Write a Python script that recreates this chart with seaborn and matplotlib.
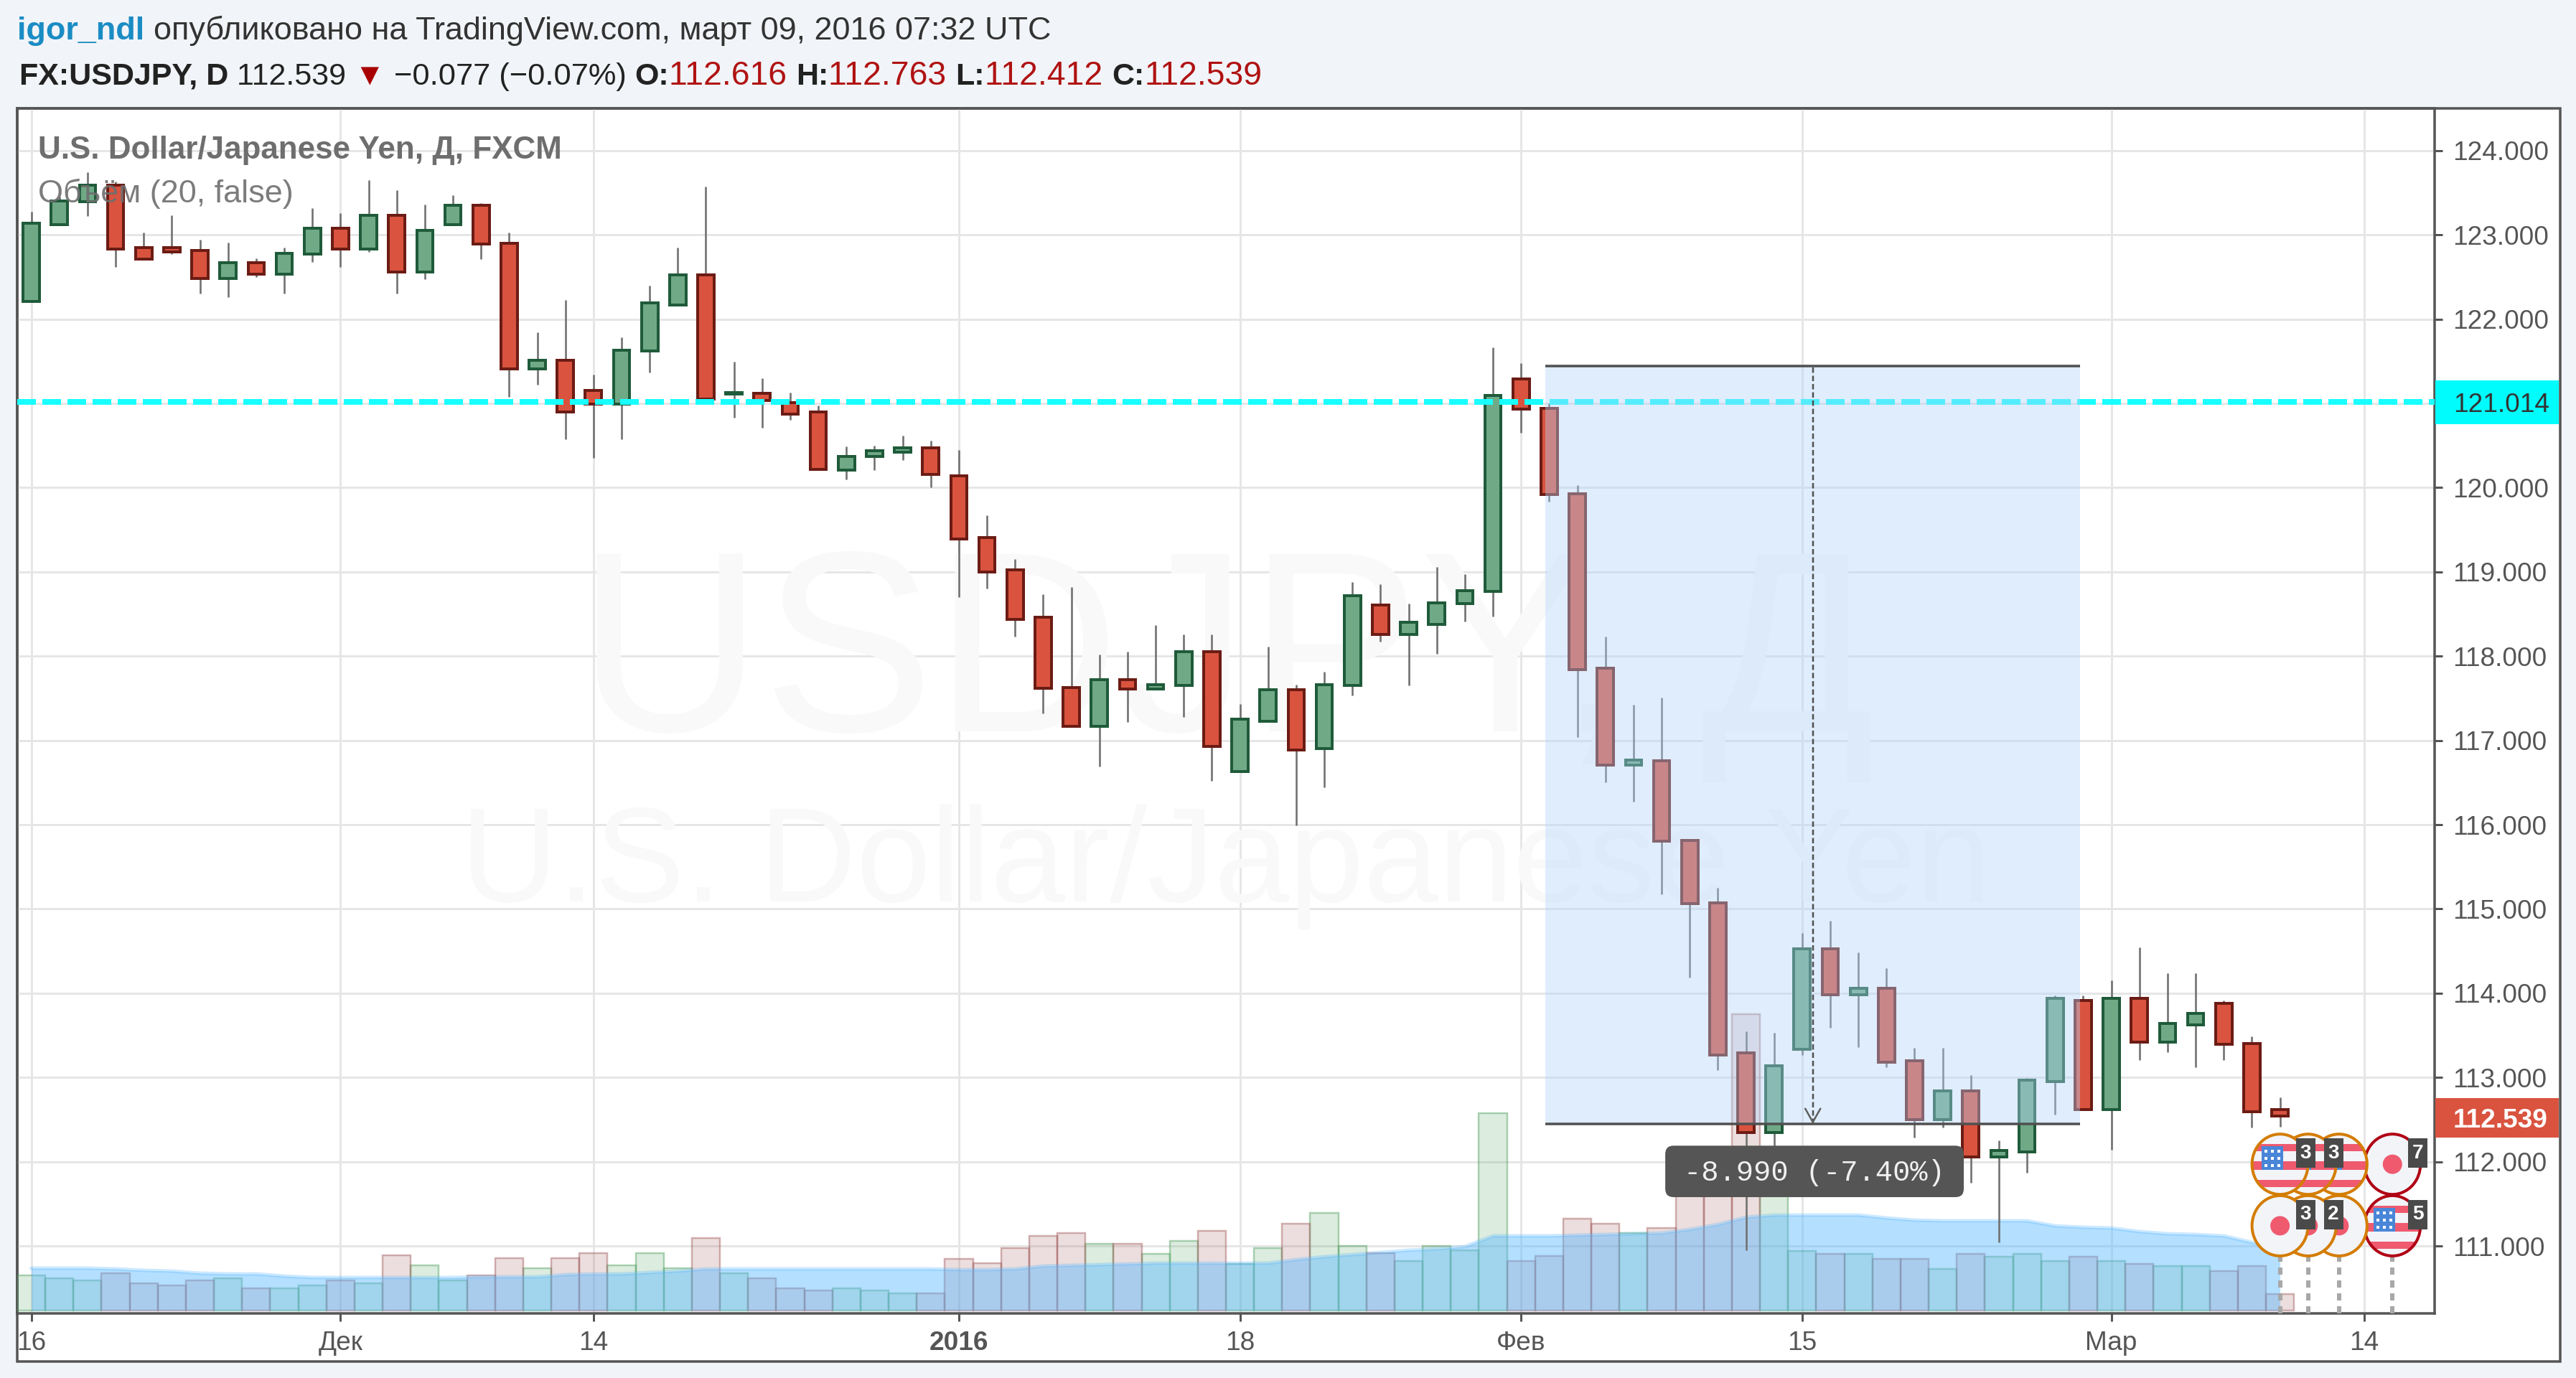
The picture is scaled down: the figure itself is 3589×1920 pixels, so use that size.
import numpy as np
import pandas as pd
import matplotlib
matplotlib.use("Agg")
import matplotlib.pyplot as plt
import seaborn as sns
from matplotlib.patches import Ellipse, FancyBboxPatch, Rectangle

# candles
opens = [122.21, 123.12, 123.39, 123.59, 122.85, 122.85, 122.81, 122.48, 122.67, 122.53,
         122.77, 123.08, 122.83, 123.23, 122.56, 123.12, 123.35, 122.90, 121.41, 121.51,
         121.15, 120.99, 121.62, 122.17, 122.52, 121.11, 121.12, 121.01, 120.90, 120.21,
         120.37, 120.42, 120.47, 120.14, 119.41, 119.02, 118.46, 117.63, 117.17, 117.72,
         117.61, 117.65, 118.05, 116.63, 117.23, 117.60, 116.90, 117.65, 118.61, 118.26,
         118.38, 118.62, 118.77, 121.29, 120.94, 119.93, 117.86, 116.71, 116.76, 115.81,
         115.07, 113.29, 112.35, 113.33, 114.53, 113.98, 114.06, 113.20, 112.50, 112.84,
         112.06, 112.12, 112.95, 113.91, 112.62, 113.94, 113.42, 113.62, 113.88, 113.40,
         112.616]
closes = [123.14, 123.40, 123.59, 122.83, 122.71, 122.80, 122.48, 122.67, 122.53, 122.78,
          123.08, 122.83, 123.23, 122.56, 123.05, 123.35, 122.89, 121.41, 121.51, 120.90,
          120.99, 121.63, 122.19, 122.52, 121.05, 121.13, 121.03, 120.87, 120.22, 120.37,
          120.44, 120.47, 120.16, 119.39, 119.00, 118.44, 117.62, 117.17, 117.72, 117.61,
          117.66, 118.05, 116.93, 117.25, 117.60, 116.89, 117.66, 118.72, 118.26, 118.40,
          118.63, 118.78, 121.09, 120.93, 119.92, 117.84, 116.71, 116.77, 115.80, 115.06,
          113.27, 112.35, 113.14, 114.53, 113.98, 114.06, 113.18, 112.50, 112.84, 112.06,
          112.13, 112.97, 113.94, 112.62, 113.94, 113.42, 113.64, 113.76, 113.39, 112.59,
          112.539]
highs = [123.27, 123.45, 123.74, 123.63, 123.03, 123.23, 122.94, 122.91, 122.72, 122.85,
         123.32, 123.26, 123.65, 123.53, 123.36, 123.47, 123.38, 123.03, 121.84, 122.23,
         121.34, 121.78, 122.40, 122.85, 123.57, 121.49, 121.30, 121.13, 120.97, 120.49,
         120.50, 120.62, 120.56, 120.45, 119.67, 119.15, 118.73, 118.82, 118.02, 118.05,
         118.37, 118.26, 118.26, 117.43, 118.11, 117.66, 117.81, 118.88, 118.85, 118.62,
         119.06, 118.97, 121.66, 121.48, 121.00, 120.03, 118.23, 117.42, 117.51, 115.81,
         115.25, 113.55, 113.53, 114.71, 114.86, 114.48, 114.30, 113.35, 113.35, 113.03,
         112.25, 112.99, 113.97, 113.97, 114.15, 114.54, 114.24, 114.24, 113.91, 113.49,
         112.763]
lows = [122.21, 123.12, 123.22, 122.62, 122.71, 122.77, 122.30, 122.26, 122.50, 122.30,
        122.68, 122.62, 122.80, 122.30, 122.47, 123.12, 122.71, 121.08, 121.22, 120.57,
        120.35, 120.57, 121.37, 122.17, 121.05, 120.83, 120.71, 120.80, 120.22, 120.10,
        120.21, 120.33, 120.00, 118.70, 118.80, 118.23, 117.32, 117.17, 116.69, 117.22,
        117.61, 117.28, 116.52, 116.63, 117.23, 115.99, 116.44, 117.53, 118.17, 117.65,
        118.03, 118.41, 118.47, 120.65, 119.83, 117.04, 116.50, 116.27, 115.17, 114.19,
        113.09, 110.95, 112.18, 113.27, 113.59, 113.36, 113.12, 112.29, 112.41, 111.75,
        111.04, 111.87, 112.56, 112.62, 112.14, 113.21, 113.30, 113.12, 113.21, 112.41,
        112.412]

# volume and its 20 day average, in picture units (the scale itself is not shown)
volume = [49, 45, 42, 52, 38, 35, 42, 45, 31, 31,
          35, 42, 38, 77, 63, 42, 49, 73, 59, 73,
          80, 63, 80, 59, 101, 52, 45, 31, 28, 31,
          28, 24, 24, 72, 66, 87, 104, 108, 93, 93,
          79, 97, 111, 65, 87, 121, 136, 90, 80, 69,
          90, 84, 275, 69, 76, 128, 121, 108, 115, 190,
          195, 413, 190, 83, 79, 79, 72, 72, 58, 79,
          75, 79, 69, 75, 69, 65, 62, 62, 55, 62,
          23]
volume_ma = [59, 59, 59, 58, 56, 55, 52, 51, 51, 48,
             46, 46, 46, 46, 46, 46, 47, 47, 47, 50,
             51, 51, 53, 55, 58, 58, 58, 58, 58, 58,
             58, 58, 58, 57, 57, 58, 62, 63, 64, 65,
             66, 66, 66, 66, 66, 71, 75, 78, 81, 84,
             86, 89, 104, 104, 104, 105, 106, 107, 108, 113,
             120, 130, 133, 133, 133, 133, 129, 126, 125, 125,
             125, 125, 118, 116, 115, 110, 107, 106, 104, 95,
             88]

x_tick_pos = [0, 11, 20, 33, 43, 53, 63, 74, 83]
x_tick_labels = ['16', 'Дек', '14', '2016', '18', 'Фев', '15', 'Мар', '14']
price_ticks = list(range(111, 125))

level_price = 121.014
last_price = 112.539
range_top = 121.44
range_bottom = 112.45
range_left = 53.87
range_right = 72.89

# events: bar position, row, kind, impact colour, badge
event_x = [84, 82.1, 81, 80, 84, 82.1, 81, 80]
event_row = [0, 0, 0, 0, 1, 1, 1, 1]
event_kind = ['jp', 'us', 'us', 'us', 'us', 'jp', 'jp', 'jp']
event_col = ['#b00014', '#d47c00', '#d47c00', '#d47c00', '#b00014', '#d47c00', '#d47c00', '#d47c00']
event_badge = ['7', '', '3', '3', '5', '', '2', '3']

W, H = 3589, 1920
PX_X = 39.16    # pixels per bar
PX_Y = 117.4    # pixels per price unit
px = 0.72       # pixels to points at dpi 100

BG = '#f1f4f8'
FRAME = '#555555'
GRID = '#e6e6e6'
RED = '#d9533f'
RED_E = '#6b1c14'
GREEN = '#6fa986'
GREEN_E = '#1f5b3a'
TXT = '#555555'

sns.set_theme(style='white')
plt.rcParams['font.family'] = ['Liberation Sans', 'DejaVu Sans']

idx = np.arange(len(opens))
o = np.array(opens)
c = np.array(closes)
df = pd.DataFrame({
    'idx': idx,
    'dir': np.where(c >= o, 'up', 'down'),
    'volume': volume,
    'body': np.abs(c - o),
    'bottom': np.minimum(o, c),
})

fig = plt.figure(figsize=(W / 100, H / 100), dpi=100, facecolor=BG)
fig.add_artist(Rectangle((24 / W, 1 - 1897 / H), (3567 - 24) / W, (1897 - 151) / H,
                         transform=fig.transFigure, fc='white', ec=FRAME, lw=3.5 * px, zorder=-1))

pos = [24 / W, 1 - 1830 / H, (3392 - 24) / W, (1830 - 151) / H]
ax = fig.add_axes(pos, facecolor='none')
ax_vol = fig.add_axes(pos, facecolor='none', sharex=ax)
ax_top = fig.add_axes(pos, facecolor='none', sharex=ax, sharey=ax)

# grid + watermark at the bottom
ax.set_ylim(110.2, 124.5)
ax.grid(True, color=GRID, lw=3 * px)
ax.set_axisbelow(True)
ax.yaxis.tick_right()
ax.set_yticks(price_ticks, [f'{p:.3f}' for p in price_ticks])
ax.set_xticks(x_tick_pos, x_tick_labels)
ax.tick_params(axis='y', length=11 * px, width=3 * px, color=FRAME, labelcolor=TXT,
               labelsize=37 * px, pad=14 * px, right=True, labelright=True)
ax.tick_params(axis='x', length=11 * px, width=3 * px, color=FRAME, labelcolor=TXT,
               labelsize=37 * px, pad=13 * px, bottom=True)
ax.get_xticklabels()[3].set_fontweight('bold')
for s in ax.spines.values():
    s.set_color(FRAME)
    s.set_linewidth(3.5 * px)
    s.set_visible(True)
ax.text(42.5, 117.9, 'USDJPY, Д', fontsize=358 * px, color='#f9f9f9', ha='center', va='center')
ax.text(42.5, 115.5, 'U.S. Dollar/Japanese Yen', fontsize=187 * px, color='#f9f9f9', ha='center', va='center')

# volume
sns.barplot(data=df, x='idx', y='volume', hue='dir', hue_order=['up', 'down'], native_scale=True,
            palette={'up': (80 / 255, 160 / 255, 95 / 255), 'down': (160 / 255, 90 / 255, 90 / 255)},
            dodge=False, width=1.0, errorbar=None, saturation=1, legend=False, ax=ax_vol)
for bar in ax_vol.patches:
    rgb = bar.get_facecolor()[:3]
    bar.set_facecolor((*rgb, 0.2))
    bar.set_edgecolor((*rgb, 0.45))
    bar.set_linewidth(2.5 * px)
ax_vol.fill_between(idx, 0, volume_ma, color='#5ab8ff', alpha=0.45, lw=0)
ax_vol.plot(idx, volume_ma, color='#5ab8ff', alpha=0.3, lw=5 * px)
ax_vol.set_ylim(-4, 1675)
ax_vol.set_axis_off()

# candles
ax_top.vlines(idx, lows, highs, color='#707070', lw=2.6 * px, zorder=1)
sns.barplot(data=df, x='idx', y='body', hue='dir', hue_order=['up', 'down'], native_scale=True,
            palette={'up': GREEN, 'down': RED}, dodge=False, width=0.58, errorbar=None, saturation=1,
            legend=False, ax=ax_top)
for bar in ax_top.patches:
    i = int(round(bar.get_x() + bar.get_width() / 2))
    bar.set_y(df['bottom'].iloc[i])
    bar.set_zorder(2)
    bar.set_edgecolor(GREEN_E if df['dir'].iloc[i] == 'up' else RED_E)
    bar.set_linewidth(4 * px)

# horizontal level
ax_top.axhline(level_price, color='#19ffff', lw=8 * px, dashes=(26 / 8, 9 / 8), zorder=3)

# price range tool
ax_top.add_patch(Rectangle((range_left, range_bottom), range_right - range_left, range_top - range_bottom,
                           fc='#b1d4fa', alpha=0.4, ec='none', zorder=4))
ax_top.hlines([range_top, range_bottom], range_left, range_right, color='#505050', lw=3.5 * px, zorder=5)
mid = (range_left + range_right) / 2
ax_top.plot([mid, mid], [range_bottom, range_top], color='#505050', lw=2.5 * px, dashes=(3, 1.6), zorder=5)
ax_top.plot([mid - 0.27, mid, mid + 0.27], [range_bottom + 0.18, range_bottom + 0.02, range_bottom + 0.18],
            color='#606060', lw=2.5 * px, zorder=5)
ax_top.add_patch(FancyBboxPatch((58.23, 111.613), 10.42, 0.544, boxstyle='round,pad=0.1,rounding_size=0.3',
                                mutation_aspect=PX_X / PX_Y, fc='#555555', ec='none', zorder=6))
ax_top.text(mid + 0.05, 111.87, '-8.990 (-7.40%)', family='Liberation Mono', fontsize=40.5 * px, color='#f0f0f0',
            ha='center', va='center', zorder=7)

# events
rows_y = [111.97, 111.24]
ew = 78 / PX_X
eh = 84 / PX_Y


def draw_event(x, row, kind, col, layer):
    y = rows_y[row]
    ax_top.plot([x, x], [110.2, y - eh / 2], color='#a8a8a8', lw=6 * px, dashes=(10 / 6, 8 / 6), zorder=6,
                dash_capstyle='butt')
    z = 8 + layer
    face = Ellipse((x, y), ew, eh, fc='#f2f4f8', ec='none', zorder=z)
    ax_top.add_patch(face)
    parts = []
    if kind == 'jp':
        parts.append(Ellipse((x, y), 27 / PX_X, 27 / PX_Y, fc='#ef5a6f', ec='none', zorder=z + 0.1))
    else:
        for top, bot in [(28, 18), (4, -8), (-22, -32)]:
            parts.append(Rectangle((x - ew / 2, y + bot / PX_Y), ew, (top - bot) / PX_Y,
                                   fc='#ef5a6f', ec='none', zorder=z + 0.1))
        parts.append(Rectangle((x - 26 / PX_X, y - 8 / PX_Y), 30 / PX_X, 33 / PX_Y, fc='#4a86d8', ec='none',
                               zorder=z + 0.2))
        # stars of the flag, a small white grid
        for sx in (-20, -11, -2):
            for sy in (-2, 8, 18):
                parts.append(Rectangle(((x + sx / PX_X) - 2 / PX_X, y + (sy - 2) / PX_Y), 4 / PX_X, 4 / PX_Y,
                                       fc='white', ec='none', zorder=z + 0.25))
    for part in parts:
        ax_top.add_patch(part)
        part.set_clip_path(face)
    ax_top.add_patch(Ellipse((x, y), ew, eh, fc='none', ec=col, lw=4 * px, zorder=z + 0.3))


def draw_badge(x, row, badge):
    y = rows_y[row]
    bw = 27 / PX_X
    bh = 41 / PX_Y
    bx = x + 22 / PX_X
    by = y + 36 / PX_Y - bh
    ax_top.add_patch(Rectangle((bx, by), bw, bh, fc='#4a4a4a', ec='none', zorder=30))
    ax_top.text(bx + bw / 2, by + bh / 2, badge, color='white', fontsize=28 * px, fontweight='bold',
                ha='center', va='center', zorder=31)


for n, (x, row, kind, col) in enumerate(zip(event_x, event_row, event_kind, event_col)):
    draw_event(x, row, kind, col, n)
for x, row, badge in zip(event_x, event_row, event_badge):
    if badge:
        draw_badge(x, row, badge)

ax_top.set_xlim(-0.5, 85.5)
ax_top.set_ylim(110.2, 124.5)
ax_top.set_axis_off()


# price tags on the scale
def price_tag(price, fc, tc, weight, top_px, bottom_px):
    fig.add_artist(Rectangle((3393 / W, 1 - bottom_px / H), (3565 - 3393) / W, (bottom_px - top_px) / H,
                             transform=fig.transFigure, fc=fc, ec='none'))
    fig.text(3418 / W, 1 - (top_px + bottom_px) / 2 / H, f'{price:.3f}', color=tc, fontsize=37 * px,
             fontweight=weight, ha='left', va='center_baseline')


price_tag(level_price, '#00fcfc', '#333333', 'normal', 530, 591)
price_tag(last_price, RED, 'white', 'bold', 1530, 1585)

# legend titles over the chart
fig.text(53 / W, 1 - 210 / H, 'U.S. Dollar/Japanese Yen, Д, FXCM', color='#6e6e6e', fontsize=44 * px,
         fontweight='bold', va='center')
fig.text(53 / W, 1 - 270 / H, 'Объём (20, false)', color='#6e6e6e', fontsize=45 * px, va='center', alpha=0.9)


# header rows
def run_text(x, y, runs, size):
    rend = fig.canvas.get_renderer()
    for txt, color, weight, *scale in runs:
        s = size * (scale[0] if scale else 1)
        t = fig.text(x / W, 1 - y / H, txt, color=color, fontweight=weight, fontsize=s * px, va='baseline')
        x = t.get_window_extent(rend).x1


DARK = '#222222'
VAL = '#b01212'
run_text(24, 55, [('igor_ndl ', '#1a8cc4', 'bold'),
                  ('опубликовано на TradingView.com, март 09, 2016 07:32 UTC', '#333333', 'normal')], 45)
run_text(27, 118, [('FX:USDJPY, D ', DARK, 'bold'), ('112.539 ', DARK, 'normal'), ('▼ ', '#a80000', 'normal'),
                   ('−0.077 (−0.07%) ', DARK, 'normal', 1.01), ('O:', DARK, 'bold'), ('112.616 ', VAL, 'normal', 1.08),
                   ('H:', DARK, 'bold'), ('112.763 ', VAL, 'normal', 1.08), ('L:', DARK, 'bold'),
                   ('112.412 ', VAL, 'normal', 1.08), ('C:', DARK, 'bold'), ('112.539', VAL, 'normal', 1.08)], 43)

fig.savefig('out.png', dpi=100, facecolor=fig.get_facecolor())
